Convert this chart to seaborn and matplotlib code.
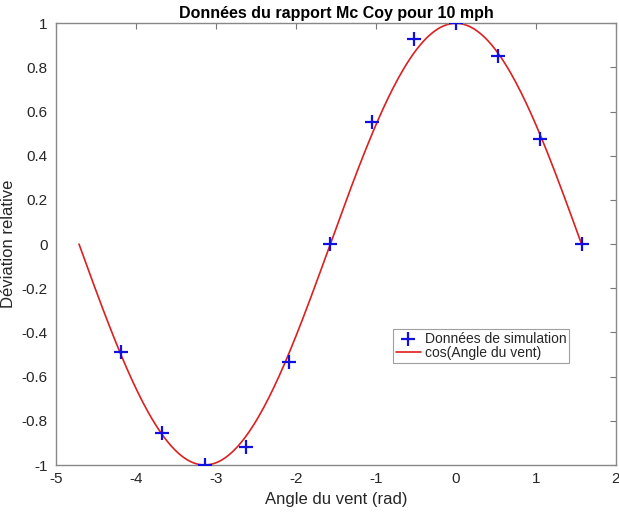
import numpy as np
import pandas as pd
import seaborn as sns
import matplotlib.pyplot as plt

# simulation points (angle in rad, relative deviation)
angles = [-4.19, -3.67, -3.14, -2.62, -2.09, -1.57, -1.05, -0.52, 0.0, 0.52, 1.05, 1.57]
deviation = [-0.49, -0.856, -1.0, -0.917, -0.532, 0.0, 0.555, 0.928, 1.0, 0.85, 0.477, 0.0]

# reference curve: cos(angle) over [-3pi/2, pi/2]
curve_x = np.linspace(-3 * np.pi / 2, np.pi / 2, 300)
curve_y = np.cos(curve_x)

xticks = [-5, -4, -3, -2, -1, 0, 1, 2]
yticks = [-1, -0.8, -0.6, -0.4, -0.2, 0, 0.2, 0.4, 0.6, 0.8, 1]
ytick_labels = ["-1", "-0.8", "-0.6", "-0.4", "-0.2", "0", "0.2", "0.4", "0.6", "0.8", "1"]

sns.set_style("white")
plt.rcParams["font.family"] = ["Liberation Sans", "DejaVu Sans"]

sim_df = pd.DataFrame({"x": angles, "y": deviation})
cos_df = pd.DataFrame({"x": curve_x, "y": curve_y})

fig = plt.figure(figsize=(6.19, 5.14), dpi=100)
ax = fig.add_axes([0.0905, 0.0953, 0.9045, 0.8594])

sns.lineplot(data=cos_df, x="x", y="y", ax=ax, color="#dd1f1f", linewidth=1.2,
             label="cos(Angle du vent)", zorder=2)
sns.scatterplot(data=sim_df, x="x", y="y", ax=ax, marker="+", s=110, color="#1010e0",
                linewidth=1.6, label="Données de simulation", zorder=3)

ax.set_xlim(-5, 2)
ax.set_ylim(-1, 1)
ax.set_xticks(xticks)
ax.set_xticklabels([str(t) for t in xticks])
ax.set_yticks(yticks)
ax.set_yticklabels(ytick_labels)

txt = "#262626"
ax.tick_params(direction="in", length=4, width=0.8, color="#777777", labelsize=11,
               labelcolor=txt, top=True, right=True)
ax.tick_params(axis="x", pad=5)
ax.tick_params(axis="y", pad=6)
for s in ax.spines.values():
    s.set_color("#888888")
    s.set_linewidth(1.0)

ax.set_xlabel("Angle du vent (rad)", fontsize=12, color=txt, labelpad=4)
ax.set_ylabel("Déviation relative", fontsize=12, color=txt)
ax.yaxis.label.set_va("center")
ax.yaxis.set_label_coords(-0.085, 0.5)
ax.set_title("Données du rapport Mc Coy pour 10 mph", fontsize=11.5, fontweight="bold",
             color="black", pad=4)

handles, labels = ax.get_legend_handles_labels()
order = [labels.index("Données de simulation"), labels.index("cos(Angle du vent)")]
leg = ax.legend([handles[i] for i in order], [labels[i] for i in order],
                loc="lower left", bbox_to_anchor=(0.602, 0.231), fontsize=10,
                frameon=True, fancybox=False, borderpad=0.2, handlelength=1.8,
                handletextpad=0.3, labelspacing=0.05, borderaxespad=0)
leg.get_frame().set_edgecolor("#888888")
leg.get_frame().set_linewidth(0.8)

fig.savefig("out.png", dpi=100)
